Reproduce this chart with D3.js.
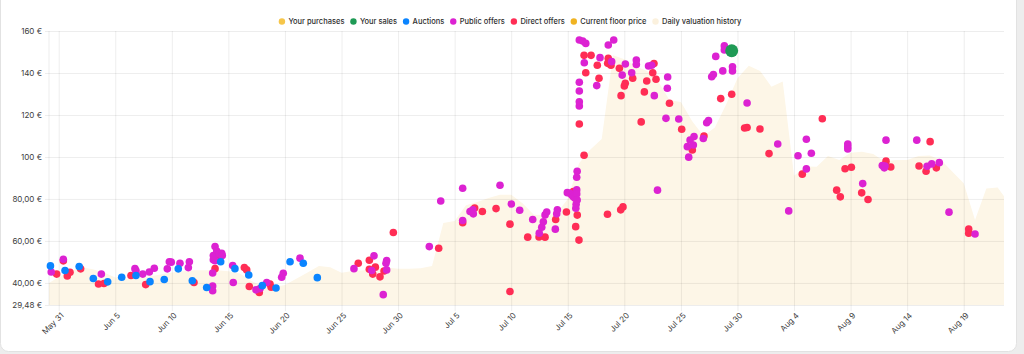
<!DOCTYPE html>
<html><head><meta charset="utf-8">
<script src="https://cdn.jsdelivr.net/npm/d3@7"></script>
<style>
html,body{margin:0;padding:0;background:#ededed;}
svg{display:block;font-family:Inter,"Noto Sans",sans-serif;}
</style></head><body>
<svg id="chart" width="1024" height="354"></svg>
<script>
const baseDate = "2023-05-31";
const seriesNames = ["Your purchases","Your sales","Auctions","Public offers","Direct offers","Current floor price","Daily valuation history"];
const seriesColors = ["#f6c64a","#1f9a55","#0a84ff","#dc22d2","#ff2d55","#f0b322","#fbf1de"];
const xTickDates = ["2023-05-31","2023-06-05","2023-06-10","2023-06-15","2023-06-20","2023-06-25","2023-06-30","2023-07-05","2023-07-10","2023-07-15","2023-07-20","2023-07-25","2023-07-30","2023-08-04","2023-08-09","2023-08-14","2023-08-19"];
const yTickValues = [29.48,40,60,80,100,120,140,160];
const yTickLabels = ["29,48 €","40,00 €","60,00 €","80,00 €","100 €","120 €","140 €","160 €"];
const xDomainDays = [-0.857, 83.56];
const yDomain = [29.48, 160];

// daily valuation history: day offset from baseDate, value
const valuationDays = d3.range(-1, 85);
const valuationValues = [39.5,42.8,45.5,47.5,46.5,45.0,42.6,42.0,42.5,43.0,44.0,45.0,45.5,46.0,46.0,46.0,45.5,44.5,41.0,38.5,38.0,39.0,42.0,45.0,48.0,47.5,44.8,45.7,46.0,46.5,47.3,46.8,46.7,47.0,48.1,68.6,69.5,77.0,78.5,80.5,82.0,82.0,78.0,72.5,72.4,73.0,80.0,97.0,103.5,108.5,148.5,146.5,143.2,141.0,136.0,127.0,126.2,117.0,110.0,114.0,125.0,137.5,143.5,141.0,133.5,136.0,91.0,95.5,95.3,100.5,98.6,102.0,102.5,101.4,97.8,98.6,98.6,100.5,100.7,98.5,93.0,87.5,70.0,85.0,85.5,78.0];

// [day offset, value]
const yourPurchases = [];
const yourSales = [[59.49,150.6]];
const auctions = [[-0.73,48.1],[0.56,45.9],[1.81,47.8],[3.06,42.1],[4.33,40.5],[5.57,42.7],[6.83,43.5],[8.07,40.6],[9.33,41.6],[10.57,46.7],[11.81,41.0],[13.08,37.8],[14.32,50.1],[15.58,46.8],[16.8,43.8],[18.0,38.7],[19.21,37.6],[20.45,50.1],[21.62,49.4],[22.86,42.5]];
const publicOffers = [[-0.66,45.2],[0.41,51.3],[3.77,44.2],[6.74,46.8],[6.83,45.9],[7.43,44.2],[8.01,45.2],[8.45,47.0],[9.6,46.7],[9.78,50.1],[9.95,49.9],[10.72,49.4],[11.46,47.3],[11.55,50.1],[13.61,38.5],[13.61,36.3],[13.61,44.7],[13.67,51.0],[13.82,50.6],[13.67,53.0],[13.82,57.3],[13.97,55.2],[14.17,53.8],[14.41,54.1],[14.46,53.0],[15.38,48.3],[15.43,40.2],[17.44,36.7],[17.8,37.3],[18.39,40.2],[19.71,42.7],[19.85,44.6],[21.33,51.8],[26.1,46.8],[27.87,52.9],[27.67,45.9],[28.69,34.4],[28.99,50.7],[28.93,49.4],[28.99,46.2],[32.76,57.3],[33.77,79.0],[35.71,85.1],[35.71,69.7],[36.36,74.0],[36.6,74.8],[36.65,72.9],[39.01,86.5],[40.01,77.6],[40.75,74.6],[41.9,70.2],[42.48,63.7],[42.7,66.5],[42.84,69.1],[42.99,72.4],[43.14,73.8],[43.9,65.6],[44.02,72.9],[44.08,74.8],[44.96,83.0],[45.2,82.7],[45.35,81.9],[45.49,81.1],[45.64,80.3],[45.79,84.3],[45.79,82.4],[45.83,79.5],[45.74,77.5],[45.71,75.6],[45.79,90.3],[45.83,93.2],[46.02,124.3],[46.02,126.3],[46.02,131.4],[46.02,135.6],[46.46,144.9],[46.02,155.7],[46.32,155.2],[46.59,154.1],[48.58,153.3],[49.06,155.7],[47.85,147.3],[47.56,134.0],[48.88,145.4],[49.81,139.0],[50.09,144.3],[50.65,140.1],[51.06,146.2],[51.06,144.1],[52.14,143.3],[52.42,143.7],[52.65,129.2],[53.83,138.1],[53.8,132.7],[53.68,118.4],[54.81,118.1],[52.93,84.2],[55.69,99.9],[55.81,108.1],[56.16,109.7],[55.57,104.9],[56.1,105.7],[56.98,108.8],[57.28,116.3],[57.44,117.3],[57.72,138.2],[57.87,139.3],[58.08,147.9],[58.7,141.0],[58.84,152.9],[58.84,151.0],[59.56,143.0],[59.56,141.0],[60.85,125.7],[63.56,106.2],[66.09,108.4],[66.53,101.8],[65.35,100.6],[66.09,94.3],[64.53,74.3],[69.75,106.2],[69.75,104.9],[69.75,103.8],[71.07,87.3],[73.13,108.0],[72.8,95.9],[73.04,95.7],[72.98,94.8],[75.85,108.0],[76.76,95.6],[77.17,96.7],[77.84,97.3],[78.7,73.7],[81.0,63.3]];
const directOffers = [[-0.18,44.2],[0.41,50.5],[0.76,43.3],[1.0,45.1],[1.94,46.7],[3.52,39.5],[4.0,39.7],[6.39,43.5],[7.69,39.2],[11.96,40.2],[13.82,46.8],[13.97,52.3],[16.41,47.3],[16.62,46.2],[16.85,38.3],[17.73,35.4],[18.68,39.5],[18.78,37.9],[26.48,49.4],[27.46,50.8],[27.46,46.5],[27.76,44.2],[27.99,47.5],[28.4,42.9],[28.76,45.7],[29.58,64.0],[33.59,56.5],[35.71,68.7],[36.77,75.7],[37.45,74.0],[38.66,75.4],[39.89,68.0],[39.89,35.9],[41.46,61.8],[42.46,61.9],[42.99,61.8],[43.93,70.2],[44.88,73.8],[45.49,83.5],[45.84,72.3],[45.7,66.8],[45.99,60.4],[46.02,115.7],[46.44,100.8],[46.44,148.4],[47.06,148.4],[46.59,140.1],[47.61,143.7],[47.76,137.5],[48.58,147.0],[48.53,144.6],[48.82,143.7],[49.56,142.2],[50.0,133.8],[50.08,135.1],[49.71,129.2],[50.74,137.5],[51.98,136.2],[51.77,131.0],[52.62,144.5],[52.51,140.1],[52.8,137.0],[53.99,125.6],[51.49,116.7],[55.07,113.2],[56.01,103.3],[57.04,110.0],[58.52,127.8],[59.49,129.9],[48.51,72.7],[49.68,74.8],[49.88,76.2],[60.63,113.8],[60.85,114.0],[61.99,113.3],[62.79,101.6],[67.5,118.2],[65.73,91.8],[69.51,94.4],[70.07,95.1],[68.77,84.2],[69.09,81.0],[70.98,82.9],[71.54,79.7],[73.13,98.0],[73.55,95.2],[77.03,107.3],[76.05,95.7],[76.67,93.2],[77.58,94.8],[80.44,65.7],[80.44,63.7]];

const W = 1024, H = 354;
const margin = {left: 49, right: 20, top: 31, bottom: 49};
const svg = d3.select("#chart");
const base = d3.timeParse("%Y-%m-%d")(baseDate);
const toDate = d => new Date(base.getTime() + d * 864e5);

// card
svg.append("rect").attr("x",0.5).attr("y",-12).attr("width",1016).attr("height",363.5)
  .attr("rx",8).attr("fill","#fff").attr("stroke","#e2e2e2");

const x = d3.scaleTime().domain(xDomainDays.map(toDate)).range([margin.left, W - margin.right]);
const y = d3.scaleLinear().domain(yDomain).range([H - margin.bottom, margin.top]);

svg.append("clipPath").attr("id","clip").append("rect")
  .attr("x",margin.left).attr("y",margin.top).attr("width",x.range()[1]-margin.left).attr("height",y.range()[0]-margin.top);

// area
const valuation = valuationDays.map((d,i)=>({t:toDate(d), v:valuationValues[i]}));
svg.append("path").datum(valuation).attr("clip-path","url(#clip)")
  .attr("fill","#fdf6e7")
  .attr("d", d3.area().x(d=>x(d.t)).y0(y(yDomain[0])).y1(d=>y(d.v)));

// grid / axes
const xTicks = xTickDates.map(s=>d3.timeParse("%Y-%m-%d")(s));
const xAxis = d3.axisBottom(x).tickValues(xTicks).tickFormat(d3.timeFormat("%b %-d"))
  .tickSize(-(y.range()[0]-margin.top)-0).tickPadding(0);
const gx = svg.append("g").attr("transform",`translate(0,${y.range()[0]+6})`).call(xAxis);
gx.select(".domain").remove();
gx.selectAll(".tick line").attr("stroke","#000").attr("stroke-opacity",0.07).attr("y2",-(y.range()[0]-margin.top)-6);
gx.selectAll(".tick text").attr("fill","#3d3d3d").attr("font-size","8px").attr("font-family","Inter")
  .attr("text-anchor","end").attr("transform","translate(3,3) rotate(-45)").attr("dy","0.35em").attr("y",0).attr("x",0);

const yAxis = d3.axisLeft(y).tickValues(yTickValues).tickFormat((d,i)=>yTickLabels[i])
  .tickSize(-(x.range()[1]-margin.left)).tickPadding(6);
const gy = svg.append("g").attr("transform",`translate(${margin.left},0)`).call(yAxis);
gy.select(".domain").remove();
gy.selectAll(".tick line").attr("stroke","#000").attr("stroke-opacity",0.07).attr("x1",-4);
gy.selectAll(".tick text").attr("fill","#3d3d3d").attr("font-size","8px").attr("font-family","Inter").attr("x",-7);
svg.append("line").attr("x1",margin.left).attr("x2",margin.left).attr("y1",margin.top).attr("y2",y.range()[0])
  .attr("stroke","#000").attr("stroke-opacity",0.07);

// dots
const layers = [
  {data: directOffers, color: seriesColors[4], r: 3.8},
  {data: publicOffers, color: seriesColors[3], r: 3.8},
  {data: auctions, color: seriesColors[2], r: 3.8},
  {data: yourPurchases, color: seriesColors[0], r: 3.8},
  {data: yourSales, color: seriesColors[1], r: 6.5}
];
layers.forEach(L=>{
  svg.append("g").selectAll("circle").data(L.data).join("circle")
    .attr("cx",d=>x(toDate(d[0]))).attr("cy",d=>y(d[1])).attr("r",L.r).attr("fill",L.color);
});

// legend
const lg = svg.append("g");
let cx = 0;
seriesNames.forEach((n,i)=>{
  const g = lg.append("g").attr("transform",`translate(${cx},0)`);
  g.append("circle").attr("r",3.2).attr("fill",seriesColors[i]);
  const t = g.append("text").attr("x",6.5).attr("dy","0.35em").attr("font-size","7.5px")
    .attr("fill","#2e2e2e").attr("font-weight",500).text(n);
  cx += 6.5 + t.node().getComputedTextLength() + 9;
});
const total = cx - 9 + 3.2;
lg.attr("transform",`translate(${510 - total/2 + 3.2},21.5)`);
</script>
</body></html>
